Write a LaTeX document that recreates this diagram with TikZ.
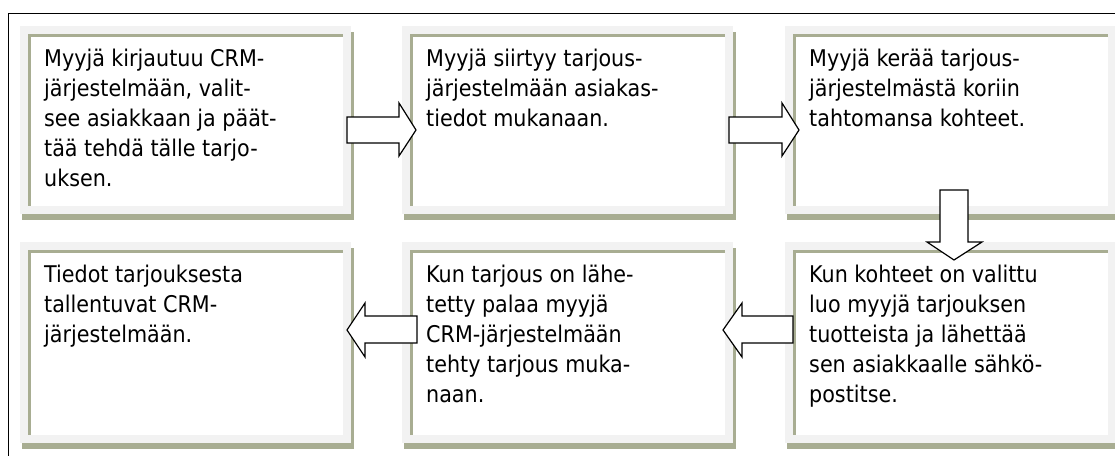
\documentclass[tikz,border=0pt]{standalone}
\usepackage{fontspec}
\setmainfont{DejaVu Sans Condensed}
\definecolor{boxolive}{RGB}{168,173,146}
\definecolor{boxgrey}{RGB}{242,242,242}
\tikzset{
  boxtext/.style={anchor=north west, inner sep=0pt, align=left,
    font=\fontsize{23}{30}\selectfont, text=black},
  blockarrow/.style={draw=black, fill=white, line width=1.2pt, line join=miter},
  frameline/.style={draw=black, line width=1.6pt}
}
\newcommand\smartbox[6]{% name, X, Y, W, H, text
  \fill[boxolive] (#2+2,#3+6) rectangle (#2+#4+3,#3+#5+6);
  \fill[boxgrey] (#2,#3) rectangle (#2+#4,#3+#5);
  \fill[white] (#2+8,#3+8) rectangle (#2+#4-8,#3+#5-8);
  \fill[boxolive] (#2+8,#3+8) rectangle (#2+#4-8,#3+11);
  \fill[boxolive] (#2+8,#3+8) rectangle (#2+11,#3+#5-8);
  \node[boxtext] (#1) at (#2+24,#3+18) {\rule{0pt}{22pt}#6};
}
\begin{document}
\begin{tikzpicture}[x=1pt,y=-1pt]
\useasboundingbox (0,0) rectangle (1115,455);
\clip (0,0) rectangle (1115,455);
\draw[frameline] (8.5,480) -- (8.5,13.5) -- (1140,13.5);
\smartbox{b1}{20}{26}{331}{188}{Myyjä kirjautuu CRM-\\järjestelmään, valit-\\see asiakkaan ja päät-\\tää tehdä tälle tarjo-\\uksen.}
\smartbox{b2}{402}{26}{331}{188}{Myyjä siirtyy tarjous-\\järjestelmään asiakas-\\tiedot mukanaan.}
\smartbox{b3}{785}{26}{331}{188}{Myyjä kerää tarjous-\\järjestelmästä koriin\\tahtomansa kohteet.}
\smartbox{b6}{20}{242}{331}{201}{Tiedot tarjouksesta\\tallentuvat CRM-\\järjestelmään.}
\smartbox{b5}{402}{242}{331}{201}{Kun tarjous on lähe-\\tetty palaa myyjä\\CRM-järjestelmään\\tehty tarjous muka-\\naan.}
\smartbox{b4}{785}{242}{331}{201}{Kun kohteet on valittu\\luo myyjä tarjouksen\\tuotteista ja lähettää\\sen asiakkaalle sähkö-\\postitse.}
% block arrows
\draw[blockarrow] (347,117) -- (399,117) -- (399,103) -- (416,130) -- (399,156) -- (399,143) -- (347,143) -- cycle;
\draw[blockarrow] (729,117) -- (782,117) -- (782,103) -- (799,130) -- (782,156) -- (782,143) -- (729,143) -- cycle;
\draw[blockarrow] (940,190) -- (968,190) -- (968,242) -- (982,242) -- (954,260) -- (927,242) -- (940,242) -- cycle;
\draw[blockarrow] (793,316) -- (742,316) -- (742,303) -- (723,330) -- (742,357) -- (742,343) -- (793,343) -- cycle;
\draw[blockarrow] (417,316) -- (365,316) -- (365,303) -- (347,330) -- (365,357) -- (365,343) -- (417,343) -- cycle;
\end{tikzpicture}
\end{document}
